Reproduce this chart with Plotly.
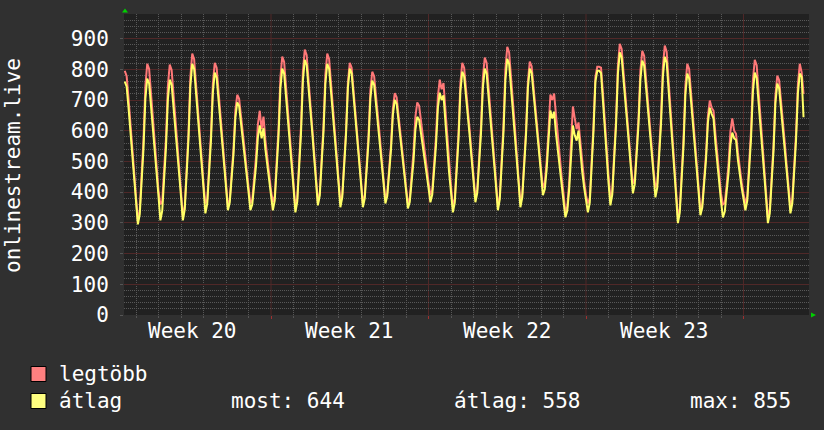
import pandas as pd
import plotly.graph_objects as go

# ---------------- data ----------------
sample_start = "2024-05-13 12:00"   # 2-hour samples, week 20 starts Mon 2024-05-13
sample_step = "2h"

# "legtöbb" (max) series, one row per daily cycle (starts at midday peak)
max_vals = [
    795, 778, 707, 624, 550, 467, 388, 305, 341, 459, 572, 746,
    818, 801, 728, 644, 569, 484, 405, 360, 370, 475, 577, 746,
    815, 798, 726, 641, 567, 482, 403, 318, 355, 478, 595, 776,
    851, 833, 760, 673, 597, 511, 429, 363, 377, 486, 592, 754,
    821, 805, 736, 657, 586, 506, 431, 351, 377, 461, 541, 666,
    717, 704, 652, 590, 535, 473, 415, 363, 375, 447, 515, 621,
    665, 605, 646, 570, 510, 455, 405, 367, 387, 499, 607, 773,
    841, 824, 752, 668, 594, 509, 430, 351, 382, 501, 615, 792,
    864, 847, 774, 689, 615, 530, 450, 365, 399, 511, 618, 783,
    851, 834, 763, 680, 606, 523, 444, 363, 393, 499, 600, 757,
    821, 805, 738, 660, 591, 513, 439, 361, 391, 490, 585, 732,
    792, 777, 717, 645, 583, 511, 444, 375, 397, 478, 555, 673,
    722, 709, 656, 594, 540, 478, 419, 363, 381, 458, 531, 645,
    692, 681, 636, 583, 536, 483, 433, 390, 407, 496, 581, 712,
    766, 735, 755, 670, 575, 490, 420, 351, 379, 489, 593, 755,
    821, 805, 741, 666, 599, 524, 453, 383, 409, 515, 617, 774,
    838, 821, 750, 668, 595, 512, 434, 351, 388, 508, 622, 800,
    873, 855, 781, 694, 617, 530, 448, 363, 394, 500, 602, 760,
    825, 810, 749, 678, 615, 544, 476, 415, 430, 500, 600, 718,
    700, 721, 650, 575, 510, 450, 395, 334, 352, 430, 560, 679,
    640, 605, 627, 555, 490, 435, 390, 363, 380, 490, 620, 775,
    808, 808, 805, 725, 625, 535, 455, 380, 403, 522, 635, 811,
    883, 866, 798, 718, 647, 566, 490, 428, 442, 545, 644, 797,
    860, 844, 776, 697, 628, 549, 474, 415, 429, 540, 646, 810,
    877, 857, 775, 679, 594, 498, 407, 318, 347, 463, 575, 747,
    818, 801, 731, 650, 578, 496, 419, 341, 362, 445, 525, 648,
    698, 675, 665, 590, 515, 450, 395, 360, 365, 423, 491, 597,
    640, 600, 590, 530, 475, 432, 395, 363, 387, 496, 602, 764,
    831, 813, 737, 649, 571, 483, 399, 318, 344, 451, 554, 714,
    779, 764, 701, 626, 561, 487, 417, 351, 376, 486, 590, 752,
    818, 790, 720,
]

# "átlag" (average) series
avg_vals = [
    760, 744, 676, 597, 528, 448, 374, 295, 328, 438, 542, 704,
    770, 754, 687, 608, 539, 460, 387, 308, 340, 445, 546, 702,
    766, 750, 684, 606, 537, 459, 386, 308, 344, 461, 573, 747,
    818, 801, 730, 648, 575, 492, 414, 331, 363, 468, 569, 725,
    789, 773, 708, 632, 565, 489, 417, 341, 366, 446, 524, 643,
    692, 680, 629, 569, 517, 457, 401, 341, 360, 424, 485, 578,
    617, 575, 608, 540, 485, 432, 388, 341, 373, 479, 581, 737,
    802, 786, 718, 638, 568, 488, 414, 334, 369, 483, 592, 761,
    831, 814, 746, 665, 594, 513, 438, 357, 389, 495, 597, 753,
    818, 802, 734, 655, 585, 505, 430, 351, 383, 486, 586, 739,
    802, 786, 721, 644, 577, 500, 428, 351, 380, 475, 565, 705,
    763, 749, 691, 623, 563, 495, 431, 363, 387, 464, 538, 653,
    700, 688, 637, 577, 524, 464, 407, 347, 368, 436, 502, 603,
    645, 635, 595, 548, 506, 459, 414, 367, 392, 474, 553, 674,
    724, 700, 715, 630, 540, 462, 400, 334, 366, 471, 572, 728,
    792, 777, 716, 643, 580, 507, 439, 367, 398, 498, 593, 741,
    802, 786, 719, 641, 572, 493, 419, 341, 376, 489, 597, 765,
    834, 817, 747, 665, 593, 510, 433, 351, 383, 486, 586, 739,
    802, 788, 728, 658, 596, 526, 460, 390, 409, 473, 570, 666,
    640, 662, 590, 530, 475, 420, 370, 318, 339, 408, 520, 617,
    585, 568, 600, 520, 465, 415, 372, 334, 366, 472, 600, 760,
    795, 795, 788, 700, 600, 510, 430, 357, 392, 506, 616, 785,
    855, 839, 772, 694, 626, 548, 474, 396, 426, 526, 621, 767,
    828, 812, 748, 672, 606, 530, 459, 383, 415, 520, 621, 777,
    841, 822, 743, 651, 570, 478, 391, 299, 333, 445, 552, 718,
    786, 770, 703, 625, 556, 477, 403, 325, 350, 430, 507, 626,
    675, 655, 640, 560, 490, 430, 370, 318, 337, 401, 462, 555,
    594, 575, 570, 505, 455, 415, 378, 341, 372, 475, 574, 726,
    789, 772, 701, 618, 544, 461, 382, 299, 331, 435, 535, 689,
    753, 738, 677, 605, 542, 470, 403, 331, 363, 468, 568, 722,
    786, 775, 644,
]

series_names = ["legtöbb", "átlag"]
week_starts = ["2024-05-13", "2024-05-20", "2024-05-27", "2024-06-03", "2024-06-10"]
week_labels = ["Week 20", "Week 21", "Week 22", "Week 23"]
stat_labels = ["most", "átlag", "max"]
stat_values = [644, 558, 855]
y_title = "onlinestream.live"
x_range = ["2024-05-13 11:12", "2024-06-12 21:50"]
y_range = [0, 980]

# ---------------- styling ----------------
FONT = "DejaVu Sans Mono"
W, H = 824, 430
PL, PR, PT, PB = 124, 809, 14, 315          # plot area in pixels
RED = "#ff7878"
YEL = "#ffff66"
BOX_RED = "#ff8080"
BOX_YEL = "#ffff80"
PAPER_BG = "#303030"
PLOT_BG = "#212121"
MAJ_GRID = "#502828"
MIN_GRID = "#585858"


def px(xp):
    return (xp - PL) / (PR - PL)


def py(yp):
    return (PB - yp) / (PB - PT)


times = pd.date_range(sample_start, periods=len(avg_vals), freq=sample_step)
week_ticks = pd.to_datetime(week_starts)
week_mid = week_ticks[:-1] + pd.Timedelta(hours=84)
# grid positions: daily lines except where a weekly (major) line is drawn
day_ticks = [d for d in pd.date_range(week_starts[0], week_starts[-1], freq="D")
             if d not in set(week_ticks)]
y_major = list(range(0, 1000, 100))
y_minor = [v for v in range(0, 1000, 20) if v % 100 != 0]

fig = go.Figure()
fig.add_trace(go.Scatter(x=times, y=max_vals, mode="lines", name=series_names[0],
                         line=dict(color=RED, width=2), showlegend=False))
fig.add_trace(go.Scatter(x=times, y=avg_vals, mode="lines", name=series_names[1],
                         line=dict(color=YEL, width=2), showlegend=False))

fig.update_layout(
    width=W, height=H,
    margin=dict(l=PL, r=W - PR, t=PT, b=H - PB, pad=0),
    paper_bgcolor=PAPER_BG, plot_bgcolor=PLOT_BG,
    font=dict(family=FONT, size=21, color="#ffffff"),
    showlegend=False,
)

fig.update_xaxes(
    type="date", range=x_range,
    tickmode="array", tickvals=week_ticks, showticklabels=False,
    showgrid=False,
    ticks="outside", ticklen=3, tickcolor="#a03030",
    minor=dict(tickmode="array", tickvals=day_ticks, showgrid=True,
               gridcolor=MIN_GRID, griddash="1px,1px", ticks="outside",
               ticklen=2, tickcolor="#555555"),
    showline=False, zeroline=False, fixedrange=True,
)

fig.update_yaxes(
    range=y_range, tickmode="array", tickvals=y_major,
    showgrid=True, gridcolor=MAJ_GRID, griddash="solid", gridwidth=1,
    ticks="outside", ticklen=3, tickcolor="#555555",
    ticklabelstandoff=7,
    tickfont=dict(family=FONT, size=21, color="#ffffff"),
    minor=dict(tickmode="array", tickvals=y_minor, showgrid=True,
               gridcolor=MIN_GRID, griddash="1px,1px"),
    showline=False, zeroline=False, fixedrange=True,
)

# weekly (major) vertical grid lines
for wt in week_ticks:
    fig.add_shape(type="line", xref="x", yref="paper", x0=wt, x1=wt, y0=0, y1=1,
                  layer="below", line=dict(color=MAJ_GRID, width=1))

# week labels centred in each week
for xm, lab in zip(week_mid, week_labels):
    fig.add_annotation(text=lab, x=xm, y=py(331), xref="x", yref="paper",
                       showarrow=False, xanchor="center", yanchor="middle",
                       font=dict(family=FONT, size=21, color="#ffffff"))

# y-axis title
fig.add_annotation(text=y_title, x=px(13), y=py(165), xref="paper", yref="paper",
                   textangle=-90, showarrow=False, xanchor="center", yanchor="middle",
                   font=dict(family=FONT, size=21, color="#ffffff"))

# green arrows (axis ends)
fig.add_shape(type="path", xref="paper", yref="paper", xsizemode="pixel",
              ysizemode="pixel", xanchor=px(125), yanchor=1,
              path="M -3,1.5 L 3,1.5 L 0,5.5 Z", fillcolor="#00d000",
              line=dict(width=0))
fig.add_shape(type="path", xref="paper", yref="paper", xsizemode="pixel",
              ysizemode="pixel", xanchor=1, yanchor=0,
              path="M 2,-2.5 L 2,2.5 L 7,0 Z", fillcolor="#00d000",
              line=dict(width=0))

# legend
legend_rows = [(series_names[0], BOX_RED, 374), (series_names[1], BOX_YEL, 401)]
for name, col, yc in legend_rows:
    fig.add_shape(type="rect", xref="paper", yref="paper",
                  x0=px(31), x1=px(46), y0=py(yc + 7.5), y1=py(yc - 7.5),
                  fillcolor=col, line=dict(color="#000000", width=1))
    fig.add_annotation(text=name, x=px(57), y=py(yc), xref="paper", yref="paper",
                       showarrow=False, xanchor="left", yanchor="middle",
                       font=dict(family=FONT, size=21, color="#ffffff"))

stat_x = [229, 452, 688]
for lab, val, xs in zip(stat_labels, stat_values, stat_x):
    fig.add_annotation(text=f"{lab}: {val}", x=px(xs), y=py(401), xref="paper",
                       yref="paper", showarrow=False, xanchor="left", yanchor="middle",
                       font=dict(family=FONT, size=21, color="#ffffff"))

fig.write_html("out.html")
